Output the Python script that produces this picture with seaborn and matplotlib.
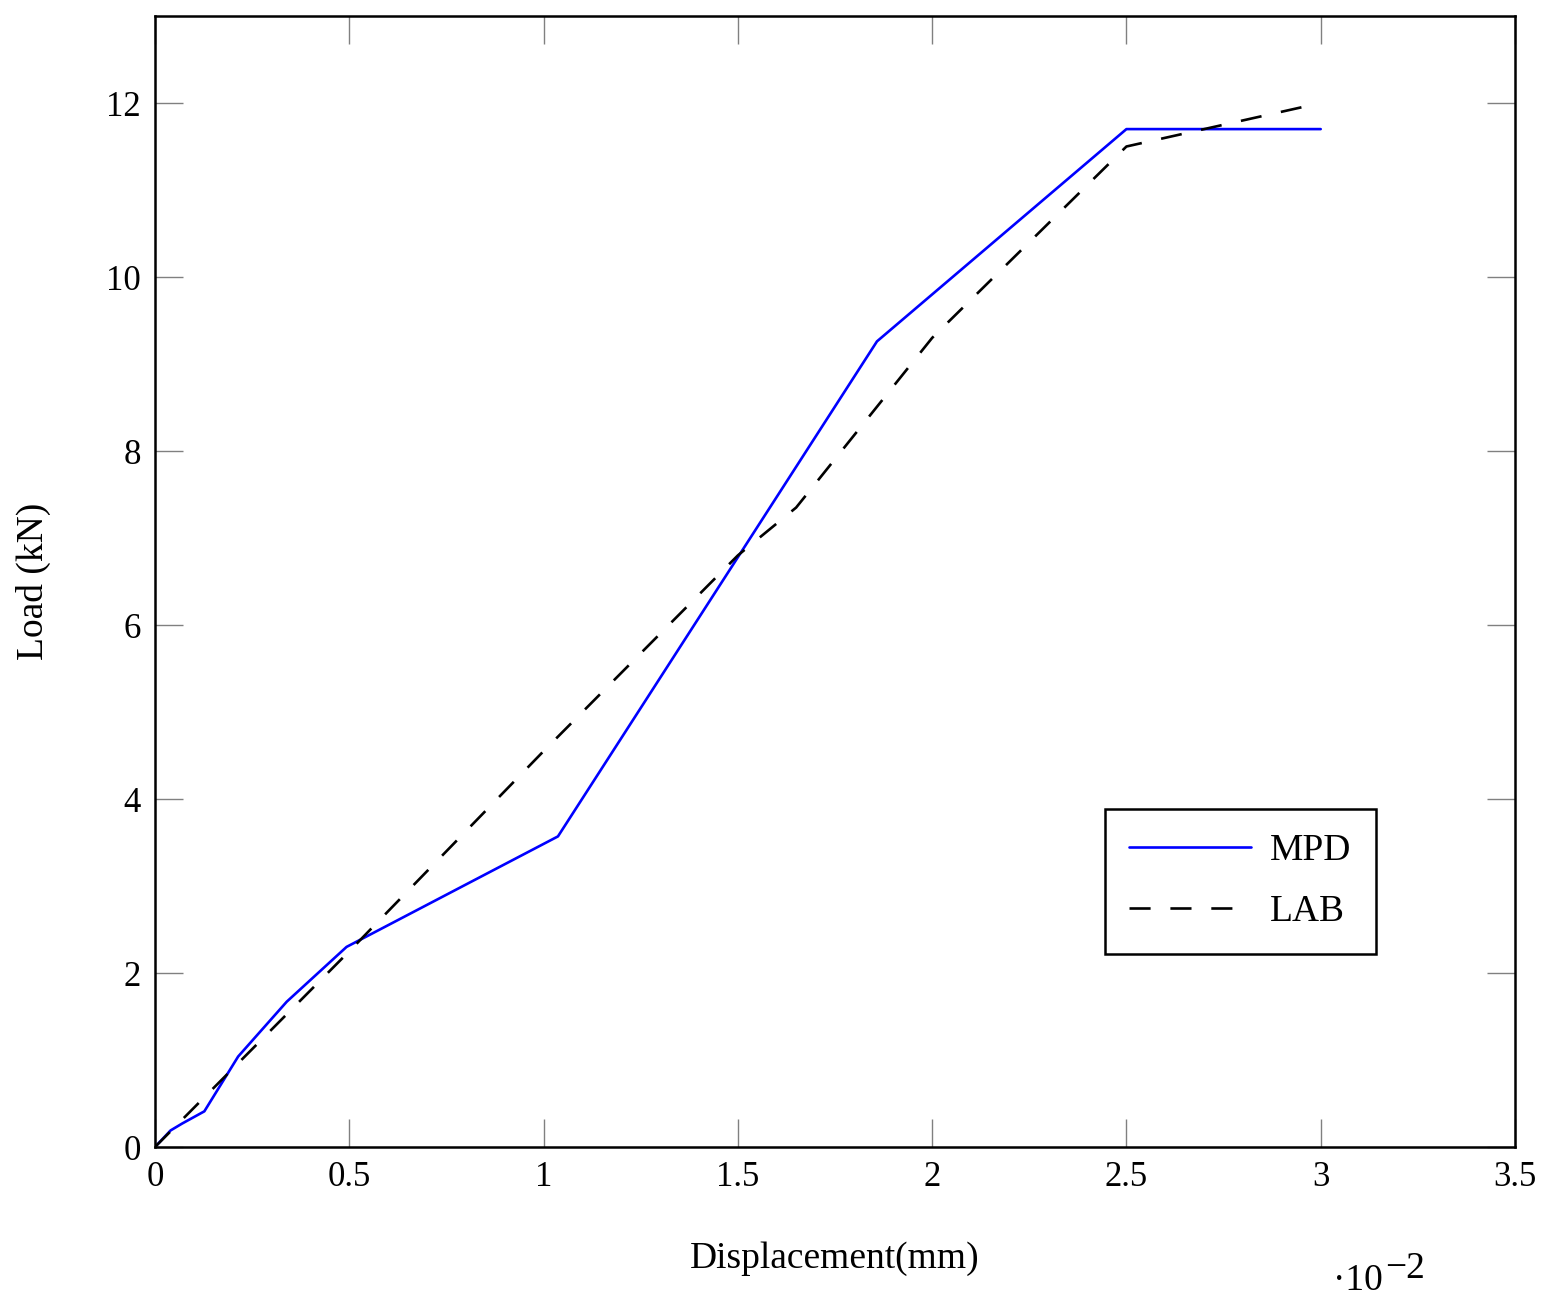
"""
Load-displacement comparison of MPD and LAB results (pgfplots look).
"""
import pandas as pd
import seaborn as sns
import matplotlib.pyplot as plt

# displacement in units of 1e-2 mm
mpd_disp = [0, 0.04, 0.07, 0.127, 0.214, 0.339, 0.493, 1.037, 1.858, 2.50, 3.0]
mpd_load = [0, 0.19, 0.27, 0.41, 1.04, 1.67, 2.30, 3.57, 9.26, 11.70, 11.70]

lab_disp = [0, 0.5, 1.0, 1.5, 1.65, 2.0, 2.5, 3.0]
lab_load = [0, 2.25, 4.55, 6.8, 7.35, 9.3, 11.5, 12.0]

series_names = ['MPD', 'LAB']
x_ticks = [0, 0.5, 1, 1.5, 2, 2.5, 3, 3.5]
x_ticklabels = ['0', '0.5', '1', '1.5', '2', '2.5', '3', '3.5']
y_ticks = [0, 2, 4, 6, 8, 10, 12]

df = pd.concat([
    pd.DataFrame({'disp': mpd_disp, 'load': mpd_load, 'series': 'MPD'}),
    pd.DataFrame({'disp': lab_disp, 'load': lab_load, 'series': 'LAB'}),
], ignore_index=True)

sns.set_style('white')
plt.rcParams['font.family'] = ['Liberation Serif', 'DejaVu Serif']
plt.rcParams['text.color'] = 'black'
plt.rcParams['axes.labelcolor'] = 'black'
plt.rcParams['xtick.color'] = 'black'
plt.rcParams['ytick.color'] = 'black'

W, H = 1550, 1307
fig = plt.figure(figsize=(W / 100, H / 100), dpi=100)
ax = fig.add_axes([155 / W, 1 - 1147 / H, 1360 / W, 1131 / H])

sns.lineplot(data=df, x='disp', y='load', hue='series', style='series',
             hue_order=series_names, style_order=series_names,
             palette={'MPD': '#0000ff', 'LAB': 'black'},
             dashes={'MPD': '', 'LAB': (8, 7.5)},
             linewidth=1.9, ax=ax)

ax.set_xlim(0, 3.5)
ax.set_ylim(0, 13)
ax.set_xticks(x_ticks)
ax.set_xticklabels(x_ticklabels)
ax.set_yticks(y_ticks)
ax.tick_params(direction='in', length=20, width=1.0, color='#808080',
               labelcolor='black',
               bottom=True, left=True, top=True, right=True,
               labelsize=25, pad=10)
for s in ax.spines.values():
    s.set_visible(True)
    s.set_color('black')
    s.set_linewidth(1.8)

ax.set_xlabel('Displacement(mm)', fontsize=27, labelpad=34)
ax.set_ylabel('Load (kN)', fontsize=27, labelpad=40)

# pgfplots-style scale label
fig.text(1333 / W, 1 - 1290 / H, '·10', fontsize=27, va='baseline', ha='left')
fig.text(1385 / W, 1 - 1278 / H, '\u22122', fontsize=27, va='baseline', ha='left')

sns.move_legend(ax, 'upper left', bbox_to_anchor=(950 / 1360, 338 / 1131),
                borderaxespad=0, title=None, frameon=True, fancybox=False,
                fontsize=27, handlelength=3.25, handletextpad=0.5,
                borderpad=0.65, labelspacing=0.72,
                edgecolor='black', framealpha=1)
leg = ax.get_legend()
leg.get_frame().set_linewidth(1.8)
for t in leg.get_texts():
    t.set_color('black')

plt.savefig('out.png', dpi=100)
